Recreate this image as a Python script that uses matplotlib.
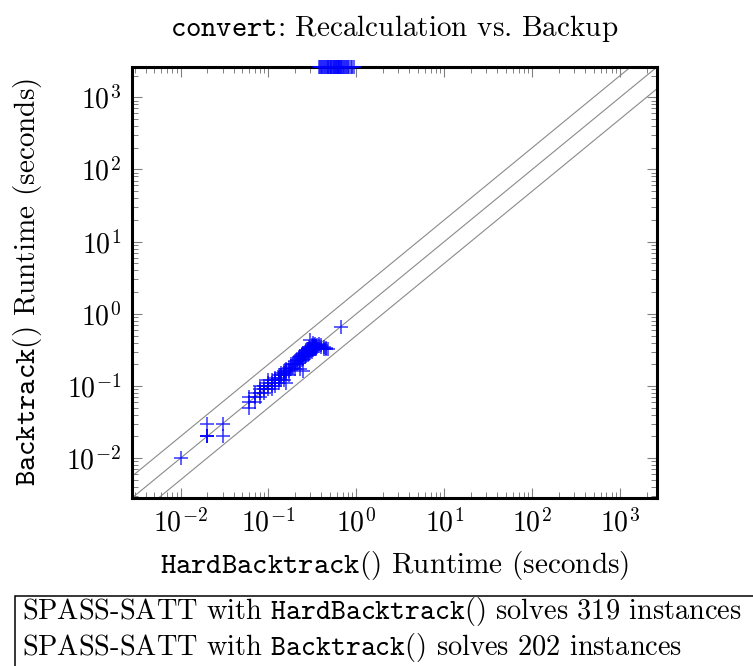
import matplotlib
matplotlib.use('Agg')
import matplotlib.pyplot as plt
from matplotlib.patches import Rectangle
from matplotlib.ticker import LogLocator, NullFormatter, FixedLocator

plt.rcParams['font.family'] = 'cmr10'
plt.rcParams['mathtext.fontset'] = 'cm'
plt.rcParams['axes.formatter.use_mathtext'] = True

# runtimes (seconds) of instances solved by both configurations
hard_both = [0.01, 0.02, 0.02, 0.02, 0.02, 0.03, 0.03,
             0.06, 0.06, 0.06, 0.07, 0.07, 0.07, 0.08, 0.08, 0.08, 0.08,
             0.09, 0.09, 0.09, 0.10, 0.10, 0.10, 0.10, 0.11, 0.11, 0.11, 0.11,
             0.12, 0.12, 0.12, 0.12, 0.13, 0.13, 0.13, 0.13, 0.14, 0.14, 0.14,
             0.15, 0.15, 0.15, 0.15, 0.16, 0.16, 0.16, 0.16, 0.17, 0.17, 0.17,
             0.18, 0.18, 0.18, 0.19, 0.19, 0.20, 0.20, 0.20, 0.21, 0.21,
             0.22, 0.22, 0.22, 0.23, 0.23, 0.23, 0.23, 0.24, 0.24, 0.24,
             0.25, 0.25, 0.25, 0.25, 0.26, 0.26, 0.26, 0.27, 0.27, 0.27,
             0.28, 0.28, 0.28, 0.28, 0.29, 0.29, 0.29, 0.29, 0.30, 0.30, 0.30, 0.30,
             0.31, 0.31, 0.31, 0.31, 0.32, 0.32, 0.32, 0.32, 0.33, 0.33, 0.33,
             0.34, 0.34, 0.34, 0.35, 0.35, 0.35, 0.36, 0.36, 0.38, 0.38,
             0.40, 0.40, 0.43, 0.43, 0.45, 0.45, 0.47, 0.67]
back_both = [0.01, 0.02, 0.02, 0.02, 0.03, 0.03, 0.02,
             0.05, 0.06, 0.07, 0.06, 0.07, 0.08, 0.07, 0.08, 0.09, 0.10,
             0.08, 0.09, 0.10, 0.09, 0.10, 0.11, 0.12, 0.10, 0.11, 0.12, 0.09,
             0.10, 0.11, 0.12, 0.13, 0.12, 0.13, 0.14, 0.11, 0.12, 0.14, 0.15,
             0.14, 0.15, 0.16, 0.12, 0.15, 0.16, 0.17, 0.11, 0.16, 0.18, 0.14,
             0.17, 0.19, 0.20, 0.18, 0.20, 0.20, 0.22, 0.17, 0.20, 0.23,
             0.21, 0.24, 0.25, 0.22, 0.25, 0.26, 0.17, 0.23, 0.26, 0.28,
             0.24, 0.27, 0.29, 0.16, 0.25, 0.28, 0.30, 0.26, 0.29, 0.31,
             0.27, 0.30, 0.32, 0.33, 0.28, 0.31, 0.33, 0.35, 0.29, 0.32, 0.34, 0.44,
             0.30, 0.33, 0.35, 0.37, 0.31, 0.34, 0.36, 0.40, 0.32, 0.35, 0.37,
             0.33, 0.36, 0.38, 0.34, 0.36, 0.33, 0.35, 0.37, 0.36, 0.38,
             0.37, 0.35, 0.33, 0.35, 0.32, 0.34, 0.33, 0.66]

# HardBacktrack runtimes of instances where Backtrack timed out
hard_timeout = [0.38, 0.39, 0.40, 0.41, 0.42, 0.43, 0.44, 0.45, 0.46, 0.47,
                0.48, 0.49, 0.50, 0.51, 0.52, 0.53, 0.54, 0.55, 0.56, 0.57,
                0.58, 0.59, 0.60, 0.61, 0.62, 0.63, 0.64, 0.65, 0.66, 0.67,
                0.68, 0.70, 0.72, 0.74, 0.76, 0.78, 0.80, 0.83, 0.86, 0.90, 0.93]

AX_MIN = 0.0028
AX_MAX = 2630.0
major_ticks = [1e-2, 1e-1, 1e0, 1e1, 1e2, 1e3]
ratio_lines = [0.5, 1.0, 2.0]

title = r'$\mathtt{convert}$: Recalculation vs. Backup'
xlabel = r'$\mathtt{HardBacktrack}$() Runtime (seconds)'
ylabel = r'$\mathtt{Backtrack}$() Runtime (seconds)'
legend_lines = [r'SPASS-SATT with $\mathtt{HardBacktrack}$() solves 319 instances',
                r'SPASS-SATT with $\mathtt{Backtrack}$() solves 202 instances']

W, H = 753, 666
fig = plt.figure(figsize=(W / 100, H / 100), dpi=100)
L, R, B, T = 132, 657, 498, 67
ax = fig.add_axes([L / W, 1 - B / H, (R - L) / W, (B - T) / H])
ax.set_xscale('log')
ax.set_yscale('log')
ax.set_xlim(AX_MIN, AX_MAX)
ax.set_ylim(AX_MIN, AX_MAX)
for axis in (ax.xaxis, ax.yaxis):
    axis.set_major_locator(FixedLocator(major_ticks))
    axis.set_minor_locator(LogLocator(base=10, subs=range(2, 10), numticks=30))
    axis.set_minor_formatter(NullFormatter())

for f in ratio_lines:
    ax.axline((1.0, f), (10.0, 10.0 * f), color='#8a8a8a', lw=0.8, zorder=1)

ax.plot(hard_both, back_both, linestyle='none', marker='+', color='blue',
        ms=10, mew=1.1, alpha=0.8, zorder=3)
ax.plot(hard_timeout, [AX_MAX] * len(hard_timeout), linestyle='none', marker='+',
        color='blue', ms=10, mew=1.1, alpha=0.8, zorder=5, clip_on=False)

for s in ax.spines.values():
    s.set_linewidth(2.2)
    s.set_color('black')

ax.tick_params(which='both', direction='in', top=True, right=True,
               colors='#808080', labelcolor='black', labelsize=20)
ax.tick_params(which='major', length=7, width=0.8, pad=8)
ax.tick_params(which='minor', length=4, width=0.7)

fs = 21
fig.text((L + R) / 2 / W, 1 - 28 / H, title, ha='center', va='center', fontsize=fs)
fig.text((L + R) / 2 / W, 1 - 565 / H, xlabel, ha='center', va='center', fontsize=fs)
fig.text(28 / W, 1 - (T + B) / 2 / H, ylabel, ha='center', va='center',
         rotation=90, fontsize=fs)

fig.patches.append(Rectangle((15 / W, -0.05), 1.0, (H - 596) / H + 0.05,
                             transform=fig.transFigure, fill=False,
                             ec='black', lw=1.1, clip_on=False))
fig.text(22 / W, 1 - 612 / H, legend_lines[0], ha='left', va='center', fontsize=20.4)
fig.text(22 / W, 1 - 648 / H, legend_lines[1], ha='left', va='center', fontsize=20.4)

fig.savefig('out.png', dpi=100)
